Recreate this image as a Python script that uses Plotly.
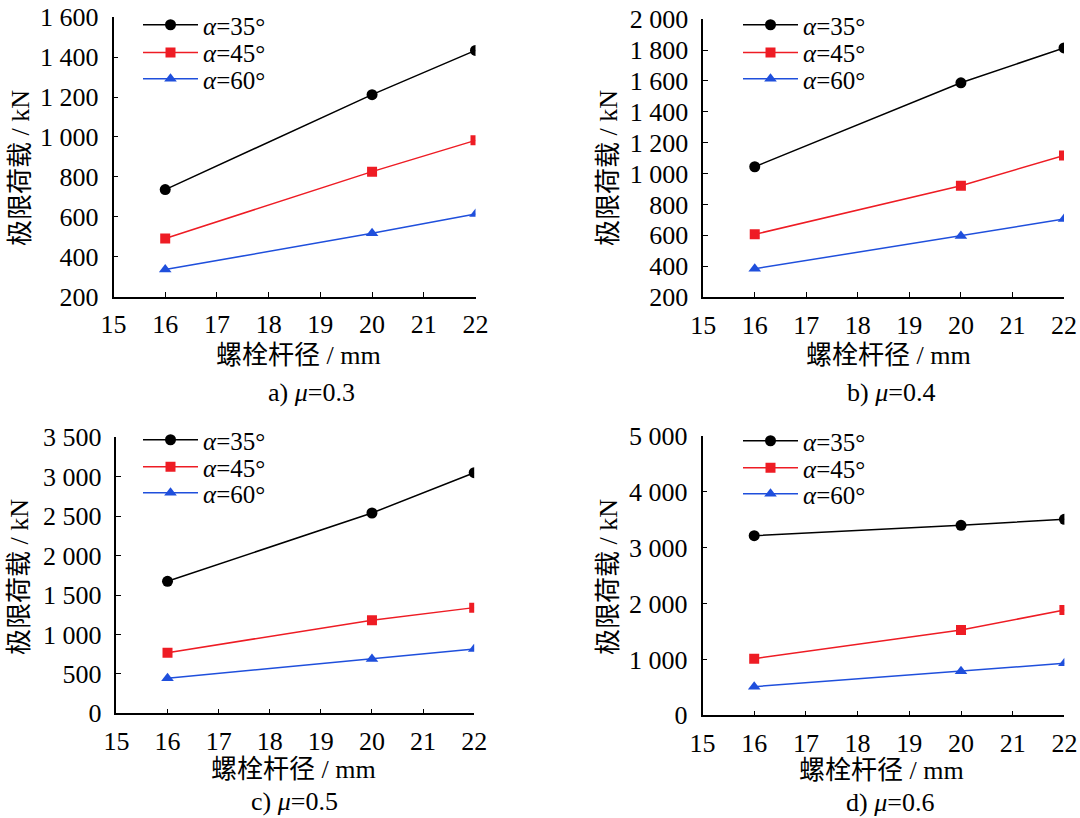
import plotly.graph_objects as go

W, H = 1080, 818

# ---------------- data ----------------
diameter = [16, 20, 22]  # 螺栓杆径 / mm
series_names = ["<i>α</i>=35°", "<i>α</i>=45°", "<i>α</i>=60°"]

mu03_a35 = [736, 1212, 1434]
mu03_a45 = [491, 826, 983]
mu03_a60 = [335, 517, 614]

mu04_a35 = [1044, 1588, 1814]
mu04_a45 = [606, 921, 1117]
mu04_a60 = [383, 595, 705]

mu05_a35 = [1674, 2540, 3051]
mu05_a45 = [769, 1180, 1340]
mu05_a60 = [444, 689, 816]

mu06_a35 = [3215, 3401, 3509]
mu06_a45 = [1014, 1527, 1885]
mu06_a60 = [513, 788, 931]

yticks_a = [200, 400, 600, 800, 1000, 1200, 1400, 1600]
yticks_b = [200, 400, 600, 800, 1000, 1200, 1400, 1600, 1800, 2000]
yticks_c = [0, 500, 1000, 1500, 2000, 2500, 3000, 3500]
yticks_d = [0, 1000, 2000, 3000, 4000, 5000]
xticks = [15, 16, 17, 18, 19, 20, 21, 22]

captions = ["a) <i>μ</i>=0.3", "b) <i>μ</i>=0.4", "c) <i>μ</i>=0.5", "d) <i>μ</i>=0.6"]
x_title = "螺栓杆径 / mm"
y_title = "极限荷载 / kN"

# ---------------- style ----------------
FONT = "Liberation Serif, Noto Sans CJK SC, serif"
SERIF = "Liberation Serif"
colors = ["#000000", "#ee1c24", "#1f4fdc"]
symbols = ["circle", "square", "triangle-up"]
msizes = [11, 10, 11]

def px(x):
    return x / W

def py(y):
    return 1 - y / H

panels = [
    dict(data=[mu03_a35, mu03_a45, mu03_a60], yt=yticks_a,
         xd=(113.5, 475.5), yd=(17.3, 296.5), legx=138, legy=(25, 52.7, 79),
         xt=(298, 355), ytt=(20, 168), cap=(312, 392)),
    dict(data=[mu04_a35, mu04_a45, mu04_a60], yt=yticks_b,
         xd=(703.2, 1064), yd=(19.2, 297), legx=738, legy=(25, 52.7, 79),
         xt=(888, 355), ytt=(608, 168), cap=(891, 392)),
    dict(data=[mu05_a35, mu05_a45, mu05_a60], yt=yticks_c,
         xd=(116.4, 474.2), yd=(437.3, 713.3), legx=138, legy=(440, 467, 493),
         xt=(293, 769), ytt=(19, 577), cap=(294, 801)),
    dict(data=[mu06_a35, mu06_a45, mu06_a60], yt=yticks_d,
         xd=(702.5, 1064.4), yd=(436, 715.3), legx=738, legy=(441, 468, 494),
         xt=(881, 770), ytt=(608, 577), cap=(890, 802)),
]

fig = go.Figure()
layout = dict(template="none", width=W, height=H, showlegend=True,
              margin=dict(l=0, r=0, t=0, b=0, autoexpand=False),
              paper_bgcolor="white", plot_bgcolor="white",
              font=dict(family=FONT, size=24, color="black"),
              annotations=[])

leg_idx = 0
for i, p in enumerate(panels):
    k = "" if i == 0 else str(i + 1)
    for j in range(3):
        leg_idx += 1
        legname = "legend" if leg_idx == 1 else "legend" + str(leg_idx)
        fig.add_trace(go.Scatter(
            x=diameter, y=p["data"][j], mode="lines+markers",
            name=series_names[j], showlegend=True,
            line=dict(color=colors[j], width=1.5),
            marker=dict(symbol=symbols[j], size=msizes[j], color=colors[j]),
            xaxis="x" + k, yaxis="y" + k, legend=legname,
        ))
        layout[legname] = dict(
            x=px(p["legx"]), y=py(p["legy"][j]), xanchor="left", yanchor="middle",
            bgcolor="rgba(0,0,0,0)", borderwidth=0, tracegroupgap=0,
            itemwidth=55, font=dict(family=SERIF, size=25, color="black"),
        )
    yt = p["yt"]
    layout["xaxis" + k] = dict(
        domain=[px(p["xd"][0]), px(p["xd"][1])], anchor="y" + k,
        range=[15, 22], tickvals=xticks, ticktext=[str(v) for v in xticks],
        ticks="inside", ticklen=5, tickwidth=1.3, tickcolor="black",
        showline=True, linecolor="black", linewidth=1.5,
        showgrid=False, zeroline=False, automargin=False,
        tickfont=dict(family=SERIF, size=26, color="black"),
        ticklabelstandoff=4,
    )
    layout["yaxis" + k] = dict(
        domain=[py(p["yd"][1]), py(p["yd"][0])], anchor="x" + k,
        range=[yt[0], yt[-1]], tickvals=yt,
        ticktext=[f"{v:,}".replace(",", " ") for v in yt],
        ticks="inside", ticklen=5, tickwidth=1.3, tickcolor="black",
        showline=True, linecolor="black", linewidth=1.5,
        showgrid=False, zeroline=False, automargin=False,
        tickfont=dict(family=SERIF, size=26, color="black"),
        ticklabelstandoff=8,
    )
    layout["annotations"] += [
        dict(text=x_title, x=px(p["xt"][0]), y=py(p["xt"][1]), xref="paper", yref="paper",
             showarrow=False, xanchor="center", yanchor="middle",
             font=dict(family=FONT, size=26)),
        dict(text=y_title, x=px(p["ytt"][0]), y=py(p["ytt"][1]), xref="paper", yref="paper",
             showarrow=False, xanchor="center", yanchor="middle", textangle=-90,
             font=dict(family=FONT, size=26)),
        dict(text=captions[i], x=px(p["cap"][0]), y=py(p["cap"][1]), xref="paper", yref="paper",
             showarrow=False, xanchor="center", yanchor="middle",
             font=dict(family=SERIF, size=26)),
    ]

fig.update_layout(**layout)
fig.write_html("out.html", config={"displayModeBar": False},
               post_script="document.body.style.margin='0';")
